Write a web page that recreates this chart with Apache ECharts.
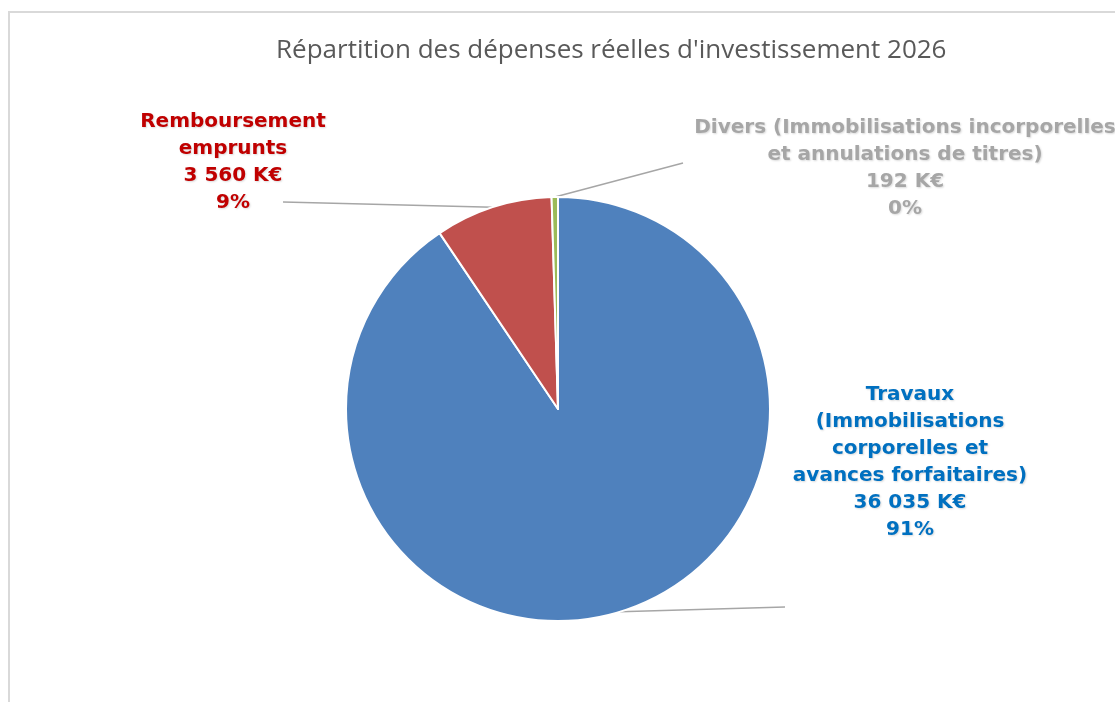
<!DOCTYPE html>
<html>
<head>
<meta charset="utf-8">
<script src="https://cdn.jsdelivr.net/npm/echarts@6/dist/echarts.min.js"></script>
<style>
html,body{margin:0;padding:0;background:#fff;}
#chart{width:1115px;height:702px;}
</style>
</head>
<body>
<div id="chart"></div>
<script>
const titleText = "Répartition des dépenses réelles d'investissement 2026";
const categories = [
  "Travaux\n(Immobilisations\ncorporelles et\navances forfaitaires)",
  "Remboursement\nemprunts",
  "Divers (Immobilisations incorporelles\net annulations de titres)"
];
const valuesKEur = [36035, 3560, 192];
const sliceColors = ["#4F81BD", "#C0504D", "#9BBB59"];
const labelColors = ["#0070C0", "#C00000", "#A6A6A6"];

function fmt(v){ return String(v).replace(/\B(?=(\d{3})+(?!\d))/g, " "); }

const chart = echarts.init(document.getElementById('chart'));
const W = 1115, H = 702;
// label layout (fractions of chart size): [centerX, centerY, lineEndX, lineEndY]
const labelPlaces = [
  [910/W, 462/H, 785/W, 607/H],
  [233/W, 162/H, 283/W, 202/H],
  [905/W, 168/H, 683/W, 163/H]
];

chart.setOption({
  backgroundColor: '#ffffff',
  title: {
    text: titleText,
    left: 271,
    top: 33,
    textStyle: { fontFamily: 'Open Sans', fontWeight: 'normal', fontSize: 26, color: '#595959' }
  },
  graphic: [{
    type: 'rect',
    shape: { x: 9, y: 12, width: 1200, height: 800 },
    style: { fill: 'none', stroke: '#D9D9D9', lineWidth: 2 },
    silent: true
  }],
  series: [{
    type: 'pie',
    center: [558, 409],
    radius: 212,
    startAngle: 90,
    clockwise: true,
    animation: false,
    itemStyle: { borderColor: '#ffffff', borderWidth: 2 },
    data: categories.map((c, i) => ({
      name: c,
      value: valuesKEur[i],
      itemStyle: { color: sliceColors[i] },
      label: { color: labelColors[i] }
    })),
    label: {
      show: true,
      fontFamily: 'DejaVu Sans',
      fontWeight: 'bold',
      fontSize: 20,
      lineHeight: 27,
      align: 'center',
      textShadowColor: 'rgba(0,0,0,0.15)',
      textShadowBlur: 2,
      textShadowOffsetX: 1,
      textShadowOffsetY: 1,
      formatter: p => p.name + "\n" + fmt(p.value) + " K€\n" + Math.round(p.percent) + "%"
    },
    labelLine: { show: true, smooth: false, lineStyle: { color: '#A6A6A6', width: 1.5 } },
    labelLayout: function (params) {
      const pl = labelPlaces[params.dataIndex];
      const cw = chart.getWidth(), ch = chart.getHeight();
      const pts = params.labelLinePoints;
      return {
        x: pl[0] * cw,
        y: pl[1] * ch,
        align: 'center',
        verticalAlign: 'middle',
        labelLinePoints: [pts[0], [pl[2] * cw, pl[3] * ch]]
      };
    }
  }]
});
</script>
</body>
</html>
